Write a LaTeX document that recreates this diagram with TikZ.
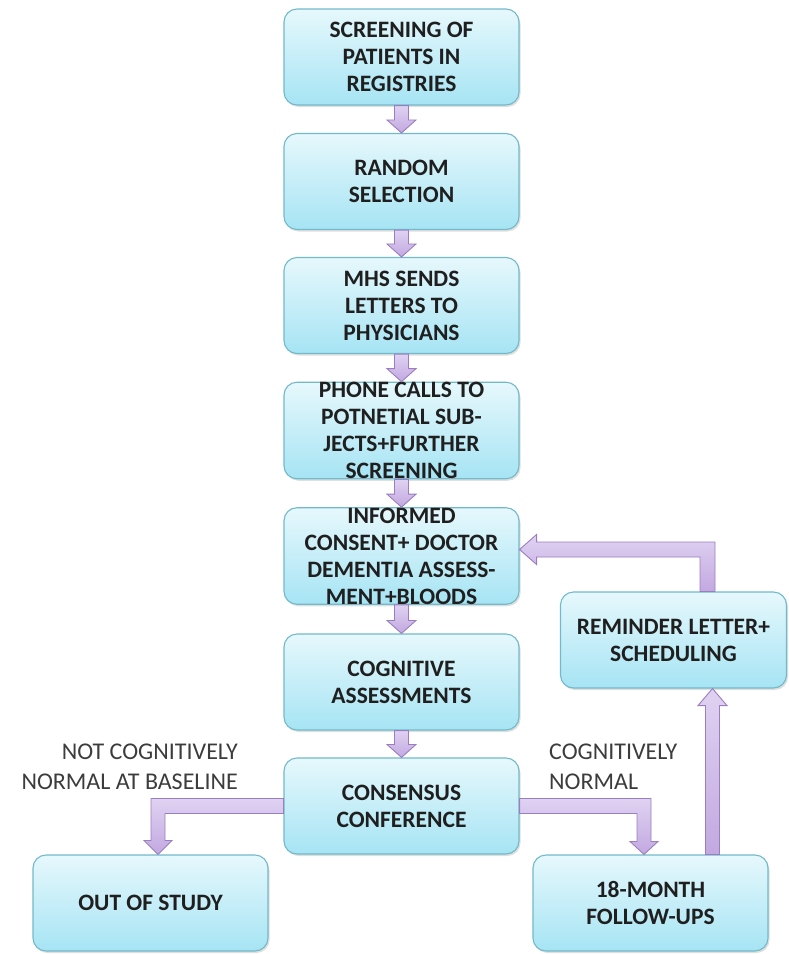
\documentclass[tikz,border=0pt]{standalone}
\usepackage{fontspec}
\setmainfont{Carlito}
\usetikzlibrary{calc,shadows}
\definecolor{boxtop}{HTML}{E6F8FC}
\definecolor{boxbot}{HTML}{A6E4F4}
\definecolor{boxline}{HTML}{72B9C9}
\definecolor{arrtop}{HTML}{E0D2F2}
\definecolor{arrbot}{HTML}{C2A8E0}
\definecolor{arrline}{HTML}{9A7EC0}
\definecolor{labgray}{HTML}{3C3C3C}
\tikzset{
  flowbox/.style={rounded corners=13pt, draw=boxline, line width=1.1pt,
    top color=boxtop, bottom color=boxbot,
    drop shadow={opacity=0.25, shadow xshift=1.5pt, shadow yshift=-2pt},
    minimum width=235pt, minimum height=96pt, align=center, inner sep=0pt,
    font=\bfseries\fontsize{23.5}{27}\selectfont, text=black!88},
  blockarrow/.style={draw=arrline, line width=0.9pt, top color=arrtop, bottom color=arrbot, line join=miter},
  sidelabel/.style={font=\fontsize{24}{30}\selectfont, text=labgray, inner sep=0pt}
}
\newcommand\vdown[2]{%
  \draw[blockarrow] ($(#1.south)+(-7,0)$) -- ($(#2.north)+(-7,13)$) -- ++(-7.5,0) -- (#2.north)
    -- ($(#2.north)+(14.5,13)$) -- ++(-7.5,0) -- ($(#1.south)+(7,0)$) -- cycle;}
\begin{document}
\begin{tikzpicture}[x=1pt,y=1pt]
\useasboundingbox (0,0) rectangle (789,-954);
\node[flowbox] (b1) at (401.5,-57) {SCREENING OF\\PATIENTS IN\\REGISTRIES};
\node[flowbox] (b2) at (401.5,-181.5) {RANDOM\\SELECTION};
\node[flowbox] (b3) at (401.5,-305.5) {MHS SENDS\\LETTERS TO\\PHYSICIANS};
\node[flowbox] (b4) at (401.5,-430.5) {PHONE CALLS TO\\POTNETIAL SUB-\\JECTS+FURTHER\\SCREENING};
\node[flowbox] (b5) at (401.5,-556) {INFORMED\\CONSENT+ DOCTOR\\DEMENTIA ASSESS-\\MENT+BLOODS};
\node[flowbox] (b6) at (401.5,-682) {COGNITIVE\\ASSESSMENTS};
\node[flowbox] (cons) at (401.5,-806) {CONSENSUS\\CONFERENCE};
\node[flowbox] (out) at (150.5,-903) {OUT OF STUDY};
\node[flowbox] (fu) at (650.5,-903) {18-MONTH\\FOLLOW-UPS};
\node[flowbox, minimum width=226pt] (rem) at (673.5,-640) {REMINDER LETTER+\\SCHEDULING};

\node[sidelabel, align=right, anchor=east] (lab1) at (238,-767) {NOT COGNITIVELY\\NORMAL AT BASELINE};
\node[sidelabel, align=left, anchor=west] (lab2) at (549,-767) {COGNITIVELY\\NORMAL};

\vdown{b1}{b2}
\vdown{b2}{b3}
\vdown{b3}{b4}
\vdown{b4}{b5}
\vdown{b5}{b6}
\vdown{b6}{cons}

% consensus -> out of study
\coordinate (t2) at ($(out.north)+(7.5,0)$);
\draw[blockarrow] ($(cons.west)+(0,7.5)$) -| ($(t2)+(-7,14)$) -- ++(-7,0) -- (t2)
  -- ($(t2)+(14,14)$) -- ++(-7,0) |- ($(cons.west)+(0,-7.5)$) -- cycle;
% consensus -> follow-ups
\coordinate (t1) at ($(fu.north)+(-6.5,0)$);
\draw[blockarrow] ($(cons.east)+(0,7.5)$) -| ($(t1)+(7,13)$) -- ++(7,0) -- (t1)
  -- ($(t1)+(-14,13)$) -- ++(7,0) |- ($(cons.east)+(0,-7.5)$) -- cycle;
% follow-ups -> reminder
\coordinate (t3) at ($(rem.south)+(39,0)$);
\coordinate (t3b) at (t3 |- fu.north);
\draw[blockarrow] ($(t3b)+(-7,0)$) -- ($(t3)+(-7,-17)$) -- ++(-7.5,0) -- (t3)
  -- ($(t3)+(14.5,-17)$) -- ++(-7.5,0) -- ($(t3b)+(7,0)$) -- cycle;
% reminder -> informed consent
\coordinate (t4) at ($(b5.east)+(0,6.5)$);
\coordinate (t5) at ($(rem.north)+(34,0)$);
\draw[blockarrow] ($(t5)+(-7.5,0)$) |- ($(t4)+(17,-7.5)$) -- ++(0,-7.5) -- (t4)
  -- ($(t4)+(17,15)$) -- ++(0,-7.5) -| ($(t5)+(7.5,0)$) -- cycle;
\end{tikzpicture}
\end{document}
